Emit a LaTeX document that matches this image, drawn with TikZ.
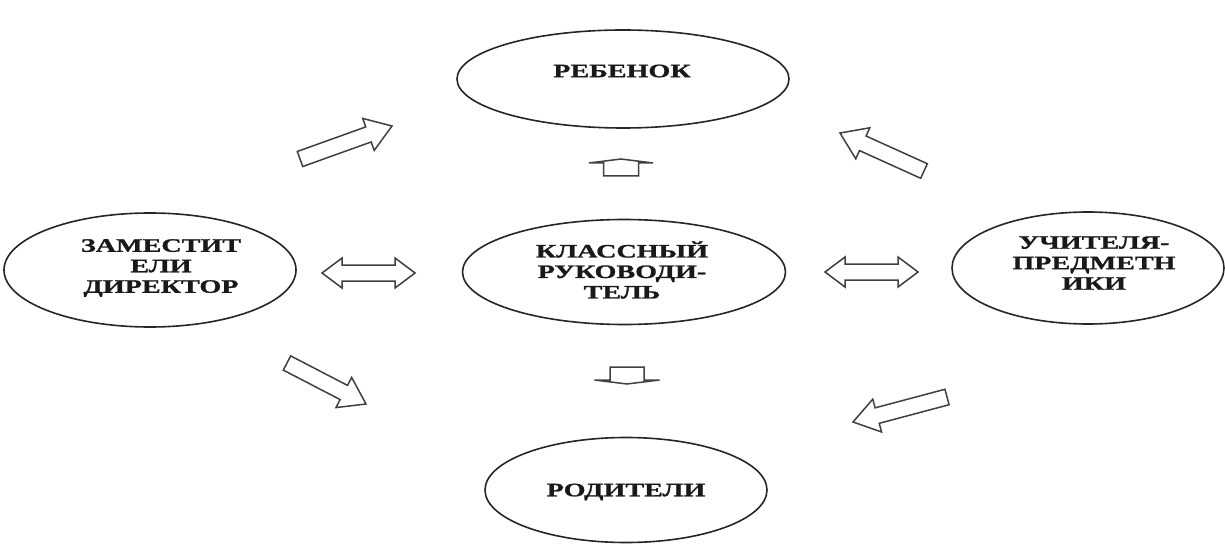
\documentclass[tikz,border=0pt]{standalone}
\usepackage{fontspec}
\usetikzlibrary{shapes.geometric,calc}
\newfontfamily\labfont[FakeStretch=1.48, BoldFeatures={FakeBold=1.2}]{Liberation Serif}
\tikzset{
  ell/.style={draw=black!85, line width=1.6pt, ellipse, inner sep=0pt},
  lbl/.style={font=\labfont\bfseries\fontsize{19}{20.5}\selectfont, align=center, inner sep=0pt, text=black!90},
  blk/.style={draw=black!75, line width=1.5pt, line join=miter}
}
% \blockarrow{tail}{tip}{shaft width}{head width}{head length}
\newcommand\blockarrow[5]{%
  \coordinate (ba-base) at ($(#2)!#5!(#1)$);
  \draw[blk] ($(#1)!#3/2!90:(#2)$) -- ($(ba-base)!#3/2!-90:(#1)$) -- ($(ba-base)!#4/2!-90:(#1)$) -- (#2)
    -- ($(ba-base)!#4/2!90:(#1)$) -- ($(ba-base)!#3/2!90:(#1)$) -- ($(#1)!#3/2!-90:(#2)$) -- cycle;
}
\begin{document}
\begin{tikzpicture}[x=1pt,y=-1pt]
\useasboundingbox[fill=white] (0,0) rectangle (1225,548);
% ellipses
\node[ell, minimum width=332pt, minimum height=98pt] (reb) at (623,79) {};
\node[lbl] (rebt) at (622,71) {РЕБЕНОК};
\node[ell, minimum width=292pt, minimum height=114pt] (zam) at (150,270) {};
\node[lbl] (zamt) at (161,268) {ЗАМЕСТИТ\\ЕЛИ\\ДИРЕКТОР};
\node[ell, minimum width=323pt, minimum height=105pt] (kl) at (624,272) {};
\node[lbl] (klt) at (622,270) {КЛАССНЫЙ\\РУКОВОДИ-\\ТЕЛЬ};
\node[ell, minimum width=272pt, minimum height=112pt] (uch) at (1088,268) {};
\node[lbl] (ucht) at (1094,263) {УЧИТЕЛЯ-\\ПРЕДМЕТН\\ИКИ};
\node[ell, minimum width=282pt, minimum height=105pt] (rod) at (626,490) {};
\node[lbl] (rodt) at (626,492) {РОДИТЕЛИ};
% arrow end points
\coordinate (a1t) at (300,159); \coordinate (a1h) at (392,126);
\coordinate (a2t) at (924,171); \coordinate (a2h) at (840,133);
\coordinate (a5t) at (287,363); \coordinate (a5h) at (366,404);
\coordinate (a6t) at (947,397); \coordinate (a6h) at (853,422);
\coordinate (a3l) at (322,273); \coordinate (a3r) at (415,273);
\coordinate (a4l) at (825,272); \coordinate (a4r) at (918,272);
\coordinate (a7t) at (621,176); \coordinate (a7h) at (621,159);
\coordinate (a8t) at (627,367); \coordinate (a8h) at (627,384);
% diagonal block arrows
\blockarrow{a1t}{a1h}{16pt}{34pt}{25pt}
\blockarrow{a2t}{a2h}{16pt}{34pt}{25pt}
\blockarrow{a5t}{a5h}{16pt}{34pt}{25pt}
\blockarrow{a6t}{a6h}{16pt}{34pt}{25pt}
% small up / down arrows
\blockarrow{a7t}{a7h}{35pt}{64pt}{4pt}
\blockarrow{a8t}{a8h}{34pt}{65pt}{4pt}
% double arrows
\draw[blk] ($(a3l)+(20,-8)$) -- ($(a3l)+(20,-15)$) -- (a3l) -- ($(a3l)+(20,15)$) -- ($(a3l)+(20,8)$)
  -- ($(a3r)+(-20,8)$) -- ($(a3r)+(-20,15)$) -- (a3r) -- ($(a3r)+(-20,-15)$) -- ($(a3r)+(-20,-8)$) -- cycle;
\draw[blk] ($(a4l)+(20,-8)$) -- ($(a4l)+(20,-15)$) -- (a4l) -- ($(a4l)+(20,15)$) -- ($(a4l)+(20,8)$)
  -- ($(a4r)+(-20,8)$) -- ($(a4r)+(-20,15)$) -- (a4r) -- ($(a4r)+(-20,-15)$) -- ($(a4r)+(-20,-8)$) -- cycle;
\end{tikzpicture}
\end{document}
